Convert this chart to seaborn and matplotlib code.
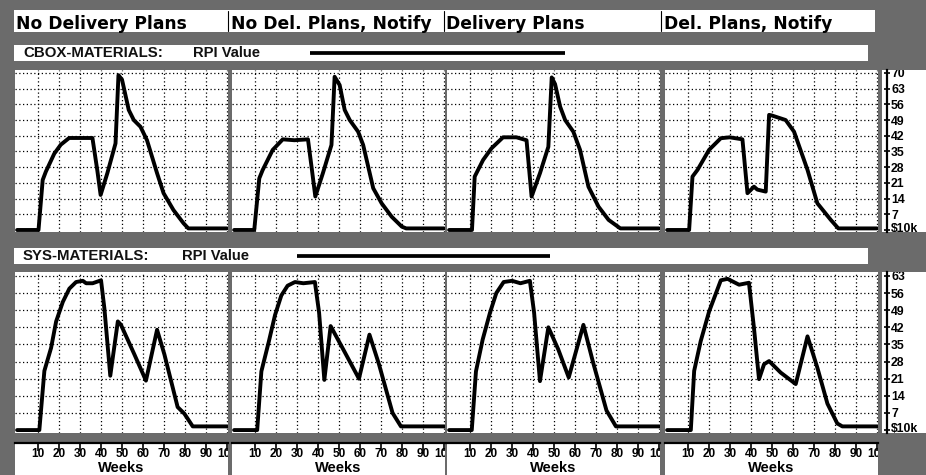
import matplotlib
matplotlib.use("Agg")
import matplotlib.pyplot as plt
from matplotlib.patches import Rectangle
from matplotlib.transforms import ScaledTranslation
import seaborn as sns

W, H = 926, 475
GRAY = "#6b6b6b"

scenarios = ["No Delivery Plans", "No Del. Plans, Notify", "Delivery Plans", "Del. Plans, Notify"]
week_ticks = [10, 20, 30, 40, 50, 60, 70, 80, 90, 100]
week_labels = ["10", "20", "30", "40", "50", "60", "70", "80", "90", "100"]
cbox_ticks = [0, 7, 14, 21, 28, 35, 42, 49, 56, 63, 70]
cbox_labels = ["$10k", "7", "14", "21", "28", "35", "42", "49", "56", "63", "70"]
sys_ticks = [0, 7, 14, 21, 28, 35, 42, 49, 56, 63]
sys_labels = ["$10k", "7", "14", "21", "28", "35", "42", "49", "56", "63"]

# CBOX-MATERIALS, RPI value ($10k) per week
cbox_nodel_wk = [0, 10.2, 12.2, 13.7, 17.7, 20.8, 24.8, 30.4, 35.9, 38.2, 39.8, 43.0, 46.9, 48.3, 50.0,
                 53.2, 55.6, 58.8, 61.9, 66.7, 69.8, 74.5, 79.3, 81.6, 100]
cbox_nodel_val = [0, 0, 22.3, 26, 34, 38, 41, 41, 41, 26.7, 15.6, 25.3, 38.6, 69, 67,
                  53.5, 49, 46, 40, 25.3, 16.4, 8.9, 3, 0.7, 0.7]
cbox_nodeln_wk = [0, 9.6, 12.0, 13.6, 18.4, 23.2, 28.7, 35.2, 37.1, 38.7, 42.3, 46.4, 47.9, 50.3,
                  52.7, 55.1, 59.1, 61.5, 66.3, 70.3, 75.1, 79.9, 82.0, 100]
cbox_nodeln_val = [0, 0, 23, 26.7, 35.7, 40.4, 40, 40.4, 26.7, 14.9, 25.3, 37.9, 68.3, 64.6,
                   53.5, 49, 43.8, 37.9, 18.6, 11.9, 5.9, 1.5, 0.7, 0.7]
cbox_del_wk = [0, 10.9, 12.2, 16.2, 20.2, 25.7, 32.1, 36.9, 39.3, 43.3, 47.3, 48.9, 50.5, 52.9,
               55.3, 59.2, 62.4, 66.4, 71.2, 76.0, 81.6, 100]
cbox_del_val = [0, 0, 23.8, 31.2, 36.4, 41.3, 41.3, 40, 14.9, 25.3, 37.1, 68, 65, 55,
                49, 43.8, 35.7, 19.3, 10.4, 4.5, 0.7, 0.7]
cbox_deln_wk = [0, 10.5, 12.1, 14.5, 20.0, 25.6, 29.8, 35.9, 38.3, 41.4, 43.0, 47.0, 48.6, 50.0,
                56.5, 60.5, 66.9, 71.6, 78.0, 81.6, 100]
cbox_deln_val = [0, 0, 23.8, 26.8, 35.7, 40.9, 41.3, 40.4, 16.4, 19.3, 18, 17.1, 51.3, 51,
                 49, 43.8, 26.8, 11.9, 4.5, 0.7, 0.7]

# SYS-MATERIALS, RPI value ($10k) per week
sys_nodel_wk = [0, 10.6, 13.0, 16.2, 18.6, 21.8, 24.9, 28.1, 31.3, 32.9, 36.0, 40.0, 41.6, 44.4,
                48.0, 49.5, 55.9, 61.4, 66.7, 70.2, 76.5, 79.7, 83.7, 100]
sys_nodel_val = [0, 0, 24.2, 33.6, 44.4, 52.4, 57.8, 60.5, 61, 60, 60, 61.2, 49.7, 22.2,
                 44.4, 43, 30.9, 20.2, 41, 30.9, 9.4, 6.7, 1.5, 1.5]
sys_nodeln_wk = [0, 11.0, 13.0, 16.5, 19.5, 22.5, 25.5, 29.0, 33.0, 38.5, 40.5, 43.0, 46.0, 52.0,
                 59.5, 64.5, 69.0, 75.5, 79.5, 100]
sys_nodeln_val = [0, 0, 24, 36, 47, 55, 59, 60.5, 60, 60.5, 48, 20.5, 42.5, 33,
                  21, 39, 27, 7, 1.5, 1.5]
sys_del_wk = [0, 10.8, 12.8, 16.0, 19.5, 22.5, 26.0, 30.0, 34.0, 38.5, 40.5, 43.3, 47.3, 52.0,
              57.0, 64.0, 68.5, 75.0, 79.5, 100]
sys_del_val = [0, 0, 24, 37, 48, 56, 60.5, 61, 60, 61, 48, 20, 42, 33,
               21.5, 43, 28, 8, 1.5, 1.5]
sys_deln_wk = [0, 11.3, 12.9, 16.0, 20.0, 25.6, 28.8, 34.3, 39.0, 41.4, 43.8, 46.2, 48.6, 54.1,
               61.3, 66.9, 71.6, 76.4, 81.1, 83.5, 100]
sys_deln_val = [0, 0, 24.2, 36.3, 48.4, 61.2, 61.8, 59.4, 60.2, 41.7, 20.8, 26.9, 28.2, 23.5,
                18.8, 38.3, 25.5, 10.8, 2.7, 1.5, 1.5]

sns.set_theme(style="white")
plt.rcParams["font.family"] = ["Liberation Sans", "DejaVu Sans"]

# layout in pixels
PANEL_X = [(15, 228), (232, 445), (447, 660), (665, 878)]
XLIM = (-1, 100.5)


def box(x0, y0, x1, y1):
    return [x0 / W, 1 - y1 / H, (x1 - x0) / W, (y1 - y0) / H]


fig = plt.figure(figsize=(W / 100, H / 100), dpi=100, facecolor=GRAY)

bg = fig.add_axes([0, 0, 1, 1])
bg.set_xlim(0, W); bg.set_ylim(H, 0); bg.axis("off")

# header row
bg.add_patch(Rectangle((14, 10), 861, 22, fc="white", ec="none"))
for (x0, _), name in zip(PANEL_X, scenarios):
    bg.text(x0 + 0.5 if x0 < 20 else x0 - 1, 29.3, name, fontsize=12.3, fontweight="bold",
            family="DejaVu Sans", color="black", va="baseline")
for xs in [227.5, 443.5, 660.5]:
    bg.plot([xs, xs], [11, 31], color="black", lw=0.8)


def band(y0, y1, label, rpi_x, line_x):
    bg.add_patch(Rectangle((14, y0), 854, y1 - y0, fc="white", ec="none"))
    base = y1 - 3.8
    bg.text(23, base, label, fontsize=10.8, fontweight="bold", va="baseline", color="#111111")
    bg.text(rpi_x, base, "RPI Value", fontsize=10.6, fontweight="bold", va="baseline", color="#111111")
    yc = (y0 + y1) / 2
    bg.plot(line_x, [yc, yc], color="black", lw=2.7, solid_capstyle="butt")


band(45, 61, "CBOX-MATERIALS:", 193, [310, 565])
band(248, 263.5, "SYS-MATERIALS:", 182, [297, 550])


def panel(x0, x1, y0, y1, ylim, yticks, wk, val):
    ax = fig.add_axes(box(x0, y0, x1, y1))
    ax.set_facecolor("white")
    sns.lineplot(x=wk, y=val, ax=ax, color="black", lw=2.8, estimator=None, sort=False)
    ax.set_xlim(XLIM); ax.set_ylim(ylim)
    ax.set_xticks(week_ticks); ax.set_yticks(yticks[1:])
    ax.grid(True, color="black", ls=(0, (1, 2)), lw=0.9)
    ax.tick_params(length=0, labelbottom=False, labelleft=False)
    ax.set_xlabel(""); ax.set_ylabel("")
    for s in ax.spines.values():
        s.set_visible(False)
    return ax


def right_scale(y0, y1, ylim, ticks, labels):
    ax = fig.add_axes(box(882, y0, 926, y1))
    ax.set_facecolor("white")
    ax.set_xlim(0, 1); ax.set_ylim(ylim)
    ax.set_xticks([])
    ax.yaxis.tick_right()
    ax.set_yticks(ticks); ax.set_yticklabels(labels)
    for s in ["left", "top", "bottom"]:
        ax.spines[s].set_visible(False)
    ax.spines["right"].set_position(("axes", 0.11))
    ax.spines["right"].set_linewidth(1.6)
    ax.spines["right"].set_color("black")
    ax.tick_params(axis="y", direction="inout", length=5, width=1.2, pad=0.5,
                   labelsize=8.8, colors="black")
    for t in ax.yaxis.get_major_ticks():
        t.label2.set_fontweight("bold")
        t.label2.set_clip_box(ax.bbox)
        t.label2.set_clip_on(True)
    zero = ax.yaxis.get_major_ticks()[0].label2
    zero.set_va("baseline")
    zero.set_transform(zero.get_transform() + ScaledTranslation(0, -0.02, fig.dpi_scale_trans))


def week_scale(x0, x1):
    ax = fig.add_axes(box(x0, 443, x1, 475))
    ax.set_facecolor("white")
    ax.set_xlim(XLIM); ax.set_ylim(0, 1)
    ax.set_yticks([])
    ax.xaxis.tick_top()
    ax.set_xticks(week_ticks); ax.set_xticklabels(week_labels)
    ax.tick_params(axis="x", direction="in", length=6, width=1.2, pad=-12, labelsize=8.5,
                   top=True, labeltop=True, bottom=False, labelbottom=False, colors="black")
    for s in ["left", "right", "bottom"]:
        ax.spines[s].set_visible(False)
    ax.spines["top"].set_linewidth(1.6)
    ax.spines["top"].set_color("black")
    for t in ax.xaxis.get_major_ticks():
        t.label2.set_fontweight("bold")
        t.label2.set_clip_box(ax.bbox)
        t.label2.set_clip_on(True)
    ax.text(0.5, 0.1, "Weeks", transform=ax.transAxes, ha="center", va="baseline",
            fontsize=10.5, fontweight="bold", color="black")


CBOX_Y, SYS_Y = (70, 232), (272, 433)
CBOX_LIM, SYS_LIM = (-0.9, 71.3), (-1.2, 64.6)

cbox_series = [(cbox_nodel_wk, cbox_nodel_val), (cbox_nodeln_wk, cbox_nodeln_val),
               (cbox_del_wk, cbox_del_val), (cbox_deln_wk, cbox_deln_val)]
sys_series = [(sys_nodel_wk, sys_nodel_val), (sys_nodeln_wk, sys_nodeln_val),
              (sys_del_wk, sys_del_val), (sys_deln_wk, sys_deln_val)]

for (x0, x1), (wk, val) in zip(PANEL_X, cbox_series):
    panel(x0, x1, *CBOX_Y, CBOX_LIM, cbox_ticks, wk, val)
for (x0, x1), (wk, val) in zip(PANEL_X, sys_series):
    panel(x0, x1, *SYS_Y, SYS_LIM, sys_ticks, wk, val)
    week_scale(x0, x1)

right_scale(*CBOX_Y, CBOX_LIM, cbox_ticks, cbox_labels)
right_scale(*SYS_Y, SYS_LIM, sys_ticks, sys_labels)

fig.savefig("out.png", dpi=100, facecolor=GRAY)
plt.close(fig)
